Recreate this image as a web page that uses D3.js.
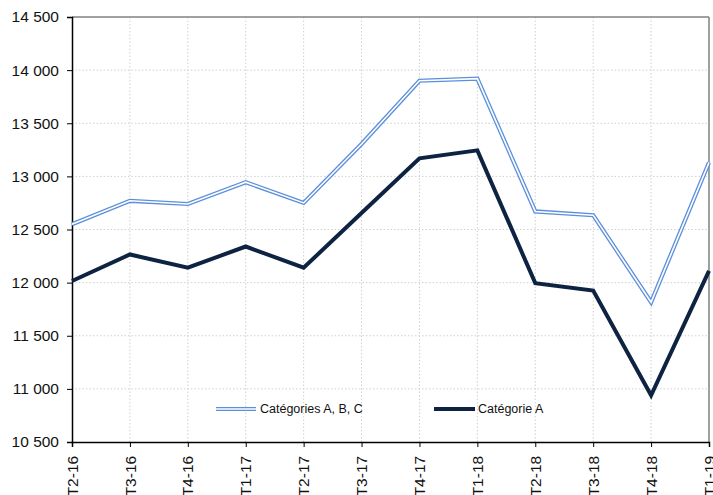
<!DOCTYPE html>
<html><head><meta charset="utf-8">
<script src="https://cdn.jsdelivr.net/npm/d3@7"></script>
<style>body{margin:0;background:#fff}svg{display:block;font-family:"Liberation Sans",Arial,sans-serif}</style>
</head><body><svg id="c" width="713" height="495"></svg>
<script>
const categories = ["T2-16","T3-16","T4-16","T1-17","T2-17","T3-17","T4-17","T1-18","T2-18","T3-18","T4-18","T1-19"];
const seriesABC = [12550,12770,12740,12945,12750,13305,13900,13920,12670,12635,11815,13130];
const seriesA = [12015,12265,12140,12340,12140,12655,13170,13245,11995,11925,10940,12110];
const yTicks = [10500,11000,11500,12000,12500,13000,13500,14000,14500];
const seriesNames = ["Catégories A, B, C","Catégorie A"];

const svg = d3.select("#c");
const L = 72, R = 709, T = 17, B = 442;
const x = d3.scalePoint().domain(categories).range([L, R]);
const y = d3.scaleLinear().domain([10500,14500]).range([B, T]);
const fmt = v => d3.format(",")(v).replace(",", " ");

// gridlines
svg.append("g").selectAll("line").data(yTicks.slice(1,-1)).join("line")
  .attr("x1", L).attr("x2", R).attr("y1", d=>y(d)).attr("y2", d=>y(d))
  .attr("stroke", "#d0d0d0").attr("stroke-dasharray", "1.5,2").attr("stroke-width",1);
svg.append("g").selectAll("line").data(categories.slice(1,-1)).join("line")
  .attr("y1", T).attr("y2", B).attr("x1", d=>x(d)).attr("x2", d=>x(d))
  .attr("stroke", "#d0d0d0").attr("stroke-dasharray", "1.5,2").attr("stroke-width",1);

// border top/right
svg.append("line").attr("x1",L).attr("x2",R).attr("y1",T).attr("y2",T).attr("stroke","#808080").attr("stroke-width",1.5);
svg.append("line").attr("x1",R).attr("x2",R).attr("y1",T).attr("y2",B).attr("stroke","#808080").attr("stroke-width",1.5);

// axes
const ya = svg.append("g").attr("transform",`translate(${L},0)`)
  .call(d3.axisLeft(y).tickValues(yTicks).tickFormat(fmt).tickSize(5).tickPadding(8));
ya.select(".domain").attr("stroke","#000").attr("stroke-width",1.5);
ya.selectAll(".tick line").attr("stroke","#000");
ya.selectAll("text").attr("font-size",15.5).attr("fill","#111").attr("font-family","Liberation Sans, Arial, sans-serif");

const xa = svg.append("g").attr("transform",`translate(0,${B})`)
  .call(d3.axisBottom(x).tickSize(5).tickPadding(4));
xa.select(".domain").attr("stroke","#000").attr("stroke-width",1.5);
xa.selectAll(".tick line").attr("stroke","#000");
xa.selectAll("text").attr("font-size",15.5).attr("fill","#111").attr("font-family","Liberation Sans, Arial, sans-serif")
  .attr("transform","rotate(-90)").attr("text-anchor","end").attr("dx","-0.7em").attr("dy","0.33em").attr("y",0).attr("x",0)
  .attr("transform","translate(0,3) rotate(-90)");

const line = d3.line().x((d,i)=>x(categories[i])).y(d=>y(d));
// double line
svg.append("path").datum(seriesABC).attr("d", line).attr("fill","none").attr("stroke","#5b8fdb").attr("stroke-width",4.2).attr("stroke-linejoin","miter");
svg.append("path").datum(seriesABC).attr("d", line).attr("fill","none").attr("stroke","#fff").attr("stroke-width",1.6).attr("stroke-linejoin","miter");
svg.append("path").datum(seriesA).attr("d", line).attr("fill","none").attr("stroke","#0e2341").attr("stroke-width",4).attr("stroke-linejoin","miter");

// legend
const lg = svg.append("g").attr("font-size",12.5).attr("fill","#111");
const ly = 409;
lg.append("line").attr("x1",216).attr("x2",256).attr("y1",ly).attr("y2",ly).attr("stroke","#5b8fdb").attr("stroke-width",4.2);
lg.append("line").attr("x1",216).attr("x2",256).attr("y1",ly).attr("y2",ly).attr("stroke","#fff").attr("stroke-width",1.6);
lg.append("text").attr("x",260).attr("y",ly).attr("dy","0.35em").text(seriesNames[0]);
lg.append("line").attr("x1",434).attr("x2",475).attr("y1",ly).attr("y2",ly).attr("stroke","#0e2341").attr("stroke-width",4);
lg.append("text").attr("x",478).attr("y",ly).attr("dy","0.35em").text(seriesNames[1]);
</script></body></html>
